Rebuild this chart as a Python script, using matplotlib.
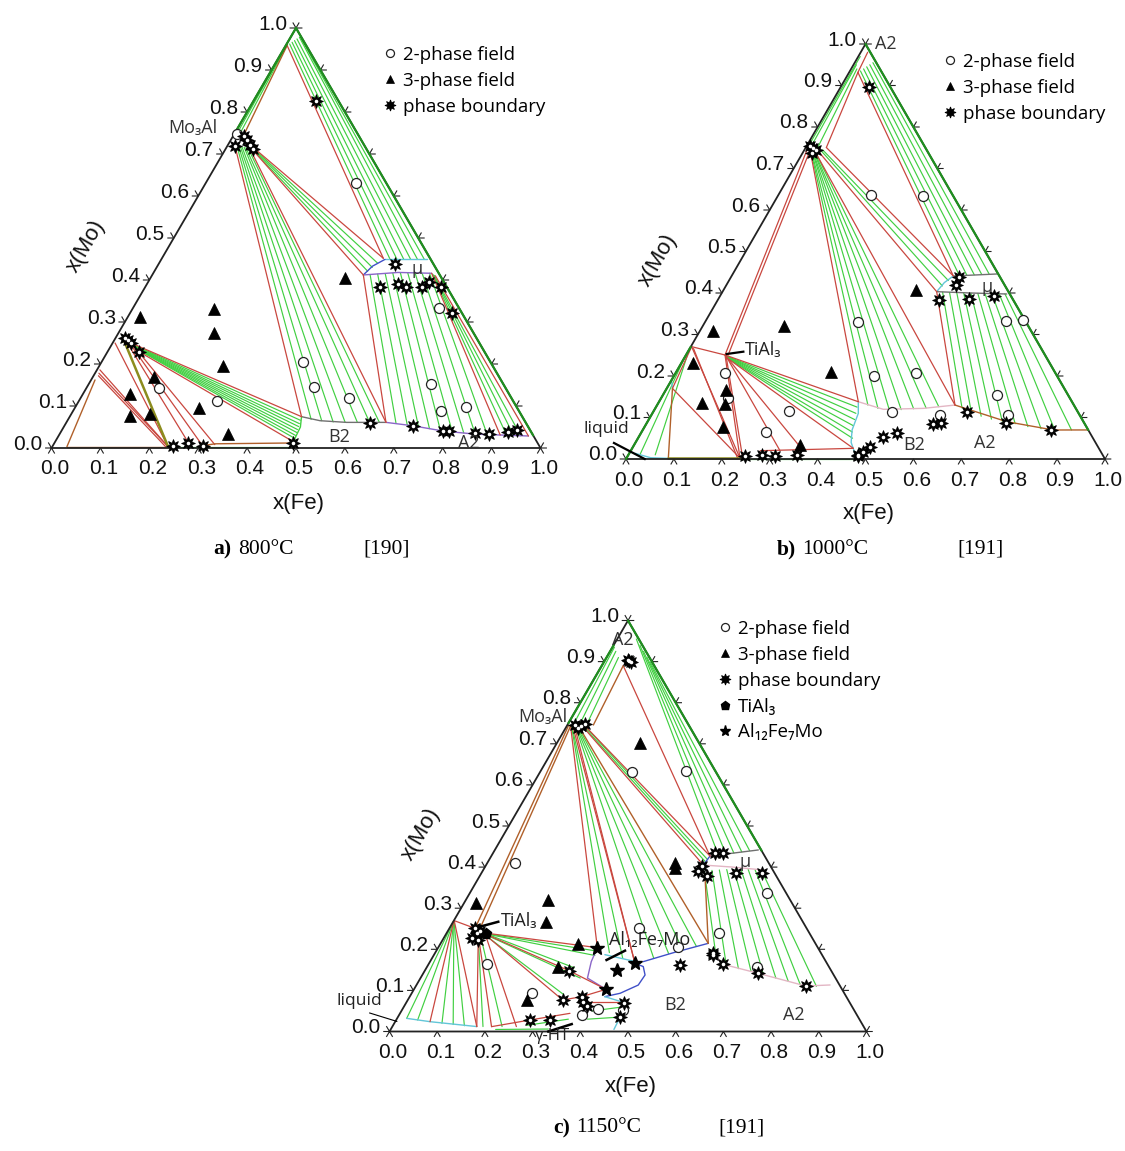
import numpy as np
import matplotlib
matplotlib.use("Agg")
import matplotlib.pyplot as plt

W_PX, H_PX = 1125, 1151
SANS = ["Open Sans", "DejaVu Sans"]
ARIAL = ["Liberation Sans", "DejaVu Sans"]
SERIF = ["Liberation Serif", "DejaVu Serif"]

RED = "#c9473f"
BROWN = "#b0602a"
OLIVE = "#8c8c1e"
GREEN = "#41cf41"
EDGE_GREEN = "#1f8f1f"
CYAN = "#62c6d8"
BLUE = "#4050c8"
PURPLE = "#8a66c8"
PINK = "#e3b6c4"
GREY = "#707070"

TICKS = [0.0, 0.1, 0.2, 0.3, 0.4, 0.5, 0.6, 0.7, 0.8, 0.9, 1.0]
TICK_LABELS = ["0.0", "0.1", "0.2", "0.3", "0.4", "0.5", "0.6", "0.7", "0.8", "0.9", "1.0"]

# triangle boxes in pixels: left x, apex y, width, base y
BOX_A = (51.5, 28.0, 489.0, 448.0)
BOX_B = (626.0, 44.0, 479.0, 459.0)
BOX_C = (389.5, 620.5, 477.0, 1031.5)

# ---------------- panel a (800 C), points as (x(Fe), x(Mo)) ----------------
A_CIRCLES = [(0.3067, 0.632), (0.1495, 0.142), (0.2815, 0.1127), (0.412, 0.2056), (0.465, 0.1444),
             (0.550, 0.118), (0.626, 0.334), (0.700, 0.1524), (0.7514, 0.0889), (0.7993, 0.0968),
             (0.0062, 0.7476)]
A_TRIANGLES = [(0.0254, 0.311), (0.168, 0.330), (0.1965, 0.273), (0.2525, 0.195), (0.126, 0.168),
               (0.096, 0.1286), (0.2536, 0.096), (0.1224, 0.0762), (0.161, 0.080), (0.345, 0.0325),
               (0.398, 0.404)]
A_STARS = [(0.1274, 0.827), (0.0158, 0.719), (0.0229, 0.743), (0.0324, 0.7333), (0.0453, 0.7214),
           (0.0558, 0.711), (0.0197, 0.261), (0.0285, 0.257), (0.0373, 0.249), (0.0649, 0.2294),
           (0.246, 0.0056), (0.2735, 0.0127), (0.306, 0.0056), (0.4877, 0.011), (0.484, 0.437),
           (0.4805, 0.3825), (0.514, 0.3905), (0.533, 0.384), (0.566, 0.3825), (0.5747, 0.396),
           (0.6053, 0.3825), (0.659, 0.322), (0.623, 0.0587), (0.712, 0.053), (0.7797, 0.0405),
           (0.7934, 0.0405), (0.8486, 0.035), (0.879, 0.0333), (0.9134, 0.039), (0.931, 0.0429)]
A_RED = [
    [(0.003, 0.958), (0.4528, 0.4516)], [(0.045, 0.722), (0.4528, 0.4516)],
    [(0.055, 0.711), (0.4317, 0.412)], [(0.015, 0.720), (0.474, 0.0746)],
    [(0.050, 0.712), (0.6535, 0.061)], [(0.4317, 0.412), (0.6535, 0.061)],
    [(0.5694, 0.416), (0.902, 0.031)], [(0.580, 0.410), (0.961, 0.0286)],
    [(0.025, 0.255), (0.474, 0.0746)], [(0.065, 0.229), (0.487, 0.015)],
    [(0.006, 0.186), (0.237, 0.003)], [(0.008, 0.178), (0.237, 0.003)],
    [(0.010, 0.172), (0.232, 0.003)], [(0.005, 0.250), (0.237, 0.003)],
    [(0.030, 0.250), (0.2735, 0.0127)], [(0.040, 0.245), (0.306, 0.0056)],
    [(0.050, 0.240), (0.330, 0.008)],
]
A_BROWN = [
    [(0.0025, 0.960), (0.020, 0.752)], [(0.030, 0.003), (0.008, 0.162)],
    [(0.030, 0.003), (0.237, 0.003)], [(0.306, 0.0056), (0.330, 0.010), (0.490, 0.012)],
]
A_OLIVE = [[(0.015, 0.262), (0.237, 0.003)]]
A_GREEN = [
    [(0.001, 0.955), (0.005, 0.752)], [(0.002, 0.957), (0.011, 0.751)],
    [(0.006, 0.962), (0.468, 0.449)], [(0.009, 0.966), (0.482, 0.449)], [(0.012, 0.970), (0.496, 0.449)],
    [(0.015, 0.974), (0.510, 0.449)], [(0.018, 0.978), (0.524, 0.449)], [(0.020, 0.978), (0.538, 0.449)],
    [(0.048, 0.719), (0.447, 0.440)], [(0.051, 0.716), (0.441, 0.430)], [(0.053, 0.713), (0.436, 0.421)],
    [(0.019, 0.720), (0.497, 0.068)], [(0.023, 0.719), (0.520, 0.065)], [(0.027, 0.718), (0.545, 0.062)],
    [(0.031, 0.717), (0.570, 0.061)], [(0.036, 0.716), (0.595, 0.061)], [(0.040, 0.715), (0.620, 0.061)],
    [(0.045, 0.714), (0.640, 0.061)],
    [(0.445, 0.413), (0.675, 0.059)], [(0.460, 0.414), (0.700, 0.055)], [(0.475, 0.415), (0.725, 0.051)],
    [(0.490, 0.416), (0.750, 0.046)], [(0.505, 0.417), (0.775, 0.041)], [(0.520, 0.417), (0.800, 0.039)],
    [(0.535, 0.417), (0.825, 0.036)], [(0.550, 0.416), (0.850, 0.033)], [(0.565, 0.416), (0.875, 0.032)],
    [(0.572, 0.414), (0.915, 0.031)], [(0.575, 0.412), (0.930, 0.030)], [(0.577, 0.411), (0.945, 0.029)],
    [(0.030, 0.252), (0.476, 0.066)], [(0.035, 0.249), (0.478, 0.058)], [(0.040, 0.246), (0.480, 0.051)],
    [(0.045, 0.243), (0.481, 0.044)], [(0.050, 0.240), (0.483, 0.037)], [(0.055, 0.237), (0.484, 0.030)],
    [(0.060, 0.234), (0.486, 0.023)],
    [(0.237, 0.002), (0.487, 0.002)],
]
A_EDGE_GREEN = [[(0.0, 0.75), (0.0, 1.0)], [(0.0, 1.0), (0.97, 0.03)]]
A_CURVES = [
    (GREY, [(0.474, 0.0746), (0.5166, 0.065), (0.573, 0.061), (0.6535, 0.061)]),
    (PURPLE, [(0.6535, 0.061), (0.712, 0.053), (0.78, 0.0405), (0.85, 0.033), (0.961, 0.0286)]),
    (GREEN, [(0.474, 0.0746), (0.484, 0.05), (0.487, 0.015)]),
    (CYAN, [(0.4574, 0.449), (0.5426, 0.449)]),
    (BLUE, [(0.4317, 0.412), (0.44, 0.433), (0.4574, 0.449)]),
    (PURPLE, [(0.4317, 0.412), (0.50, 0.418), (0.5694, 0.416)]),
]
A_LABELS = [("Mo\u2083Al", (-0.0906, 0.761)), ("\u03bc", (0.534, 0.4254)),
            ("B2", (0.576, 0.0254)), ("A2", (0.847, 0.011))]

# ---------------- panel b (1000 C) ----------------
B_CIRCLES = [(0.194, 0.6356), (0.3024, 0.634), (0.3195, 0.331), (0.418, 0.200), (0.5014, 0.208),
             (0.6267, 0.3333), (0.661, 0.335), (0.698, 0.1542), (0.745, 0.106), (0.4998, 0.1124),
             (0.6025, 0.106), (0.281, 0.1165), (0.2596, 0.064), (0.1027, 0.208), (0.1406, 0.146)]
B_TRIANGLES = [(0.0264, 0.309), (0.1703, 0.3205), (0.023, 0.232), (0.322, 0.2104), (0.1257, 0.166),
               (0.091, 0.134), (0.1404, 0.1325), (0.1642, 0.078), (0.3464, 0.0337), (0.4018, 0.4072)]
B_STARS = [(0.0606, 0.8954), (0.0071, 0.7546), (0.0247, 0.745), (0.015, 0.750), (0.020, 0.738),
           (0.477, 0.4378), (0.4793, 0.4193), (0.4618, 0.383), (0.5244, 0.3847), (0.572, 0.3928),
           (0.6556, 0.114), (0.7488, 0.0876), (0.8523, 0.0699), (0.4815, 0.0072), (0.480, 0.0096),
           (0.4867, 0.0177), (0.4945, 0.0297), (0.5097, 0.0522), (0.5356, 0.0618), (0.5994, 0.0843),
           (0.613, 0.0876), (0.245, 0.0072), (0.280, 0.0096), (0.3075, 0.0072), (0.3515, 0.0096)]
B_RED = [
    [(0.0145, 0.980), (0.0184, 0.9316)], [(0.0184, 0.9316), (0.043, 0.7506)],
    [(0.0184, 0.9316), (0.4629, 0.441)], [(0.005, 0.748), (0.0814, 0.2506)],
    [(0.012, 0.746), (0.088, 0.250)], [(0.015, 0.740), (0.416, 0.138)],
    [(0.030, 0.735), (0.6218, 0.130)], [(0.043, 0.7506), (0.4629, 0.441)],
    [(0.035, 0.738), (0.447, 0.4032)], [(0.447, 0.4032), (0.6218, 0.130)],
    [(0.0017, 0.2707), (0.0814, 0.2506)], [(0.0017, 0.2707), (0.237, 0.002)],
    [(0.008, 0.266), (0.232, 0.002)], [(0.012, 0.170), (0.237, 0.002)],
    [(0.0017, 0.2707), (0.012, 0.170)],
    [(0.0814, 0.2506), (0.237, 0.002)], [(0.085, 0.248), (0.242, 0.003)],
    [(0.085, 0.248), (0.3115, 0.020)], [(0.088, 0.245), (0.360, 0.020)],
    [(0.0814, 0.2506), (0.416, 0.138)], [(0.090, 0.243), (0.4617, 0.0257)],
    [(0.270, 0.020), (0.4617, 0.0257)],
]
B_BROWN = [[(0.0876, 0.0016), (0.012, 0.170)]]
B_OLIVE = [[(0.0876, 0.002), (0.237, 0.002)]]
B_GREEN = [
    [(0.004, 0.970), (0.004, 0.753)], [(0.006, 0.950), (0.010, 0.752)], [(0.012, 0.940), (0.025, 0.750)],
    [(0.022, 0.935), (0.475, 0.442)], [(0.026, 0.940), (0.490, 0.443)], [(0.030, 0.945), (0.505, 0.444)],
    [(0.034, 0.950), (0.520, 0.445)], [(0.038, 0.955), (0.535, 0.446)],
    [(0.038, 0.745), (0.458, 0.430)], [(0.037, 0.742), (0.452, 0.417)],
    [(0.017, 0.739), (0.440, 0.130)], [(0.019, 0.738), (0.465, 0.122)], [(0.021, 0.738), (0.490, 0.119)],
    [(0.023, 0.737), (0.515, 0.119)], [(0.025, 0.737), (0.540, 0.121)], [(0.027, 0.736), (0.565, 0.123)],
    [(0.029, 0.736), (0.590, 0.126)],
    [(0.460, 0.402), (0.640, 0.123)], [(0.475, 0.401), (0.665, 0.112)], [(0.490, 0.401), (0.690, 0.103)],
    [(0.505, 0.400), (0.715, 0.096)], [(0.520, 0.400), (0.740, 0.091)], [(0.535, 0.399), (0.770, 0.085)],
    [(0.550, 0.399), (0.800, 0.078)], [(0.565, 0.398), (0.830, 0.073)], [(0.580, 0.398), (0.860, 0.070)],
    [(0.592, 0.398), (0.895, 0.070)],
    [(0.083, 0.249), (0.420, 0.125)], [(0.084, 0.248), (0.425, 0.110)], [(0.086, 0.247), (0.430, 0.095)],
    [(0.087, 0.246), (0.435, 0.080)], [(0.088, 0.245), (0.440, 0.065)], [(0.089, 0.244), (0.448, 0.050)],
    [(0.024, 0.010), (0.000, 0.245)], [(0.056, 0.010), (0.003, 0.250)],
    [(0.237, 0.001), (0.480, 0.001)],
]
B_EDGE_GREEN = [[(0.0, 0.0), (0.0, 0.27)], [(0.0, 1.0), (0.93, 0.07)]]
B_CURVES = [
    (CYAN, [(0.012, 0.0137), (0.05, 0.003), (0.0876, 0.0016)]),
    (CYAN, [(0.0, 0.19), (0.012, 0.17)]),
    (CYAN, [(0.416, 0.138), (0.43, 0.11), (0.437, 0.07), (0.45, 0.04), (0.47, 0.015), (0.48, 0.007)]),
    (PINK, [(0.416, 0.138), (0.4774, 0.1197), (0.5597, 0.122), (0.6218, 0.130)]),
    (BROWN, [(0.6218, 0.130), (0.7497, 0.090), (0.857, 0.0699), (0.930, 0.070)]),
    (GREY, [(0.4629, 0.441), (0.551, 0.4458)]),
    (CYAN, [(0.447, 0.4032), (0.452, 0.425), (0.4629, 0.441)]),
    (GREY, [(0.447, 0.4032), (0.52, 0.400), (0.596, 0.3976)]),
]
B_LABELS = [("A2", (0.043, 1.0)), ("\u03bc", (0.546, 0.4137)), ("B2", (0.584, 0.0337)),
            ("A2", (0.7306, 0.0378))]

# ---------------- panel c (1150 C) ----------------
C_CIRCLES = [(0.1917, 0.632), (0.3047, 0.6338), (0.0585, 0.4092), (0.1216, 0.1642), (0.2516, 0.0929),
             (0.4108, 0.054), (0.3828, 0.0402), (0.4626, 0.0523), (0.398, 0.251), (0.5023, 0.2064),
             (0.572, 0.239), (0.6232, 0.3378), (0.693, 0.156)]
C_TRIANGLES = [(0.1746, 0.7012), (0.0239, 0.3135), (0.1716, 0.320), (0.1938, 0.2672), (0.2895, 0.2129),
               (0.275, 0.1578), (0.2493, 0.0766), (0.394, 0.409), (0.400, 0.397)]
C_STARS = [(0.048, 0.905), (0.052, 0.902), (0.057, 0.900), (0.016, 0.7457), (0.027, 0.7377),
           (0.0362, 0.7474), (0.030, 0.744), (0.0537, 0.251), (0.0633, 0.2389), (0.0749, 0.2226),
           (0.060, 0.228), (0.068, 0.245), (0.4656, 0.4335), (0.4831, 0.4335), (0.4535, 0.4019),
           (0.4526, 0.3897), (0.4761, 0.3775), (0.5332, 0.3865), (0.587, 0.3865), (0.5825, 0.190),
           (0.586, 0.186), (0.618, 0.1634), (0.7025, 0.1415), (0.8172, 0.1107), (0.528, 0.1618),
           (0.4563, 0.0705), (0.466, 0.0345), (0.3023, 0.148), (0.3247, 0.0766), (0.3605, 0.0848),
           (0.3687, 0.0726), (0.3823, 0.062), (0.2806, 0.028), (0.3225, 0.028)]
C_PENTAGONS = [(0.0837, 0.2372)]
C_AL12 = [(0.3337, 0.204), (0.4028, 0.1496), (0.4317, 0.1659), (0.4026, 0.1026)]
C_RED = [
    [(0.045, 0.890), (0.4584, 0.427)], [(0.036, 0.745), (0.4584, 0.427)],
    [(0.034, 0.742), (0.4555, 0.405)], [(0.010, 0.740), (0.3337, 0.204)],
    [(0.015, 0.740), (0.4317, 0.1659)], [(0.020, 0.738), (0.4317, 0.1659)],
    [(0.0, 0.270), (0.0537, 0.251)], [(0.0, 0.270), (0.073, 0.0239)],
    [(0.002, 0.268), (0.177, 0.012)], [(0.075, 0.222), (0.177, 0.012)],
    [(0.078, 0.220), (0.208, 0.0118)], [(0.086, 0.232), (0.260, 0.012)],
    [(0.092, 0.238), (0.3337, 0.204)], [(0.090, 0.234), (0.3023, 0.148)],
    [(0.088, 0.232), (0.3247, 0.0766)], [(0.3023, 0.148), (0.4026, 0.1026)],
    [(0.3247, 0.0766), (0.3605, 0.0848), (0.4026, 0.1026)],
    [(0.208, 0.0118), (0.2806, 0.028), (0.3563, 0.0442)],
    [(0.3687, 0.0726), (0.4553, 0.0726)],
]
C_BROWN = [
    [(0.045, 0.890), (0.0545, 0.7457)], [(0.003, 0.745), (0.054, 0.250)], [(0.008, 0.743), (0.065, 0.245)],
    [(0.030, 0.738), (0.561, 0.2145)], [(0.473, 0.377), (0.561, 0.2145)],
]
C_GREEN = [
    [(0.004, 0.935), (0.012, 0.750)], [(0.012, 0.925), (0.025, 0.748)], [(0.025, 0.910), (0.040, 0.747)],
    [(0.040, 0.955), (0.475, 0.429)], [(0.055, 0.940), (0.490, 0.431)], [(0.070, 0.925), (0.505, 0.434)],
    [(0.085, 0.910), (0.520, 0.437)], [(0.098, 0.898), (0.535, 0.440)],
    [(0.037, 0.744), (0.458, 0.418)], [(0.036, 0.742), (0.457, 0.412)],
    [(0.022, 0.738), (0.465, 0.178)], [(0.024, 0.738), (0.490, 0.190)], [(0.026, 0.738), (0.515, 0.199)],
    [(0.028, 0.738), (0.540, 0.207)],
    [(0.012, 0.740), (0.365, 0.192)], [(0.013, 0.740), (0.400, 0.178)],
    [(0.092, 0.237), (0.335, 0.196)], [(0.091, 0.236), (0.338, 0.185)], [(0.091, 0.235), (0.310, 0.155)],
    [(0.090, 0.233), (0.335, 0.130)], [(0.089, 0.231), (0.320, 0.090)],
    [(0.0, 0.270), (0.020, 0.032)], [(0.0, 0.270), (0.045, 0.028)], [(0.0, 0.270), (0.100, 0.020)],
    [(0.0, 0.270), (0.125, 0.017)], [(0.0, 0.270), (0.150, 0.014)],
    [(0.076, 0.221), (0.190, 0.012)], [(0.080, 0.225), (0.230, 0.012)],
    [(0.465, 0.390), (0.595, 0.180)], [(0.480, 0.392), (0.625, 0.162)], [(0.495, 0.393), (0.655, 0.153)],
    [(0.510, 0.394), (0.685, 0.146)], [(0.525, 0.394), (0.715, 0.138)], [(0.540, 0.394), (0.745, 0.130)],
    [(0.555, 0.394), (0.775, 0.122)], [(0.570, 0.393), (0.805, 0.113)], [(0.583, 0.393), (0.840, 0.110)],
    [(0.280, 0.015), (0.360, 0.030)], [(0.220, 0.005), (0.330, 0.006)], [(0.400, 0.050), (0.460, 0.060)],
    [(0.400, 0.030), (0.465, 0.035)],
]
C_EDGE_GREEN = [[(0.0, 0.75), (0.0, 0.94)], [(0.0, 1.0), (0.56, 0.44)]]
C_CURVES = [
    (CYAN, [(0.02, 0.032), (0.073, 0.0239), (0.177, 0.012)]),
    (BLUE, [(0.447, 0.170), (0.50, 0.192), (0.561, 0.2145)]),
    (CYAN, [(0.358, 0.187), (0.431, 0.170)]),
    (PURPLE, [(0.3337, 0.204), (0.338, 0.17), (0.35, 0.13), (0.4026, 0.1026)]),
    (BLUE, [(0.4317, 0.1659), (0.453, 0.158), (0.467, 0.1375), (0.465, 0.113), (0.437, 0.093), (0.409, 0.0848)]),
    (CYAN, [(0.409, 0.0848), (0.4563, 0.0705), (0.466, 0.0345), (0.468, 0.005)]),
    (GREY, [(0.4584, 0.427), (0.5524, 0.4417)]),
    (BLUE, [(0.4555, 0.405), (0.4584, 0.427)]),
    (PINK, [(0.4555, 0.405), (0.52, 0.400), (0.587, 0.393)]),
    (PINK, [(0.5825, 0.190), (0.618, 0.1634), (0.7025, 0.1415), (0.8172, 0.1107), (0.867, 0.1132)]),
]
C_LABELS = [("A2", (0.0125, 0.9526)), ("Mo\u2083Al", (-0.061, 0.766)), ("\u03bc", (0.5387, 0.4132)),
            ("B2", (0.5666, 0.0635)), ("A2", (0.829, 0.039))]

CAPTIONS = [("a)", "800\u00b0C", "[190]", 213, 238, 363, 549),
            ("b)", "1000\u00b0C", "[191]", 777, 802, 957, 549),
            ("c)", "1150\u00b0C", "[191]", 553, 576, 718, 1128)]

# ---------------------------------------------------------------------------
fig = plt.figure(figsize=(W_PX / 100, H_PX / 100), dpi=100)
fig.patch.set_facecolor("white")


def tx(pts):
    a = np.asarray(pts, float)
    return a[:, 0] + a[:, 1] / 2.0, a[:, 1]


def make_ax(box):
    l, top, w, base = box
    ax = fig.add_axes([l / W_PX, 1 - base / H_PX, w / W_PX, (base - top) / H_PX])
    ax.set_xlim(0, 1)
    ax.set_ylim(0, 1)
    ax.axis("off")
    return ax


def draw_lines(ax, lines, color, lw, z=2):
    for ln in lines:
        x, y = tx(ln)
        ax.plot(x, y, color=color, lw=lw, zorder=z, clip_on=False, solid_capstyle="round")


def draw_frame(ax, edge_green):
    x, y = tx([(0, 0), (1, 0), (0, 1), (0, 0)])
    ax.plot(x, y, color="#222222", lw=1.3, zorder=3, clip_on=False)
    draw_lines(ax, edge_green, EDGE_GREEN, 1.6, z=3.5)
    t = 0.012
    for v, lab in zip(TICKS, TICK_LABELS):
        ax.plot([v - 0.5 * t, v, v + 0.5 * t], [-t, 0, -t], color="#222222", lw=0.8, clip_on=False)
        ax.annotate(lab, (v, 0), xytext=(3, -21), textcoords="offset pixels", ha="center",
                    va="center", fontsize=15, family=ARIAL, color="#111111")
        lx, ly = tx([(0.0, v)])
        ax.plot([lx[0] - t, lx[0], lx[0] - 0.5 * t], [ly[0], ly[0], ly[0] + t], color="#222222",
                lw=0.8, clip_on=False)
        ax.annotate(lab, (lx[0], ly[0]), xytext=(-9, 4), textcoords="offset pixels", ha="right",
                    va="center", fontsize=15, family=ARIAL, color="#111111")
        rx, ry = tx([(1.0 - v, v)])
        ax.plot([rx[0] + t, rx[0], rx[0] + 0.5 * t], [ry[0], ry[0], ry[0] + t], color="#222222",
                lw=0.8, clip_on=False)
    ax.annotate("x(Fe)", (0.5, 0), xytext=(3, -55), textcoords="offset pixels", ha="center",
                va="center", fontsize=16, family=ARIAL, color="#111111")
    mx, my = tx([(0.0, 0.48)])
    ax.annotate("x(Mo)", (mx[0], my[0]), xytext=(-83, 0), textcoords="offset pixels", ha="center",
                va="center", fontsize=16, family=ARIAL, rotation=60, color="#111111")


def draw_markers(ax, circles, triangles, stars):
    x, y = tx(circles)
    h1, = ax.plot(x, y, ls="none", marker="o", ms=7.2, mfc="white", mec="#222222", mew=0.9,
                  zorder=6, clip_on=False, label="2-phase field")
    x, y = tx(triangles)
    h2, = ax.plot(x, y, ls="none", marker="^", ms=8, mfc="black", mec="black", mew=0.5,
                  zorder=6, clip_on=False, label="3-phase field")
    x, y = tx(stars)
    h3, = ax.plot(x, y, ls="none", marker=(8, 1, 0), ms=10, mfc="black", mec="black", mew=0.6,
                  zorder=7, clip_on=False, label="phase boundary")
    ax.plot(x, y, ls="none", marker="o", ms=2.6, mfc="white", mec="white", mew=0,
            zorder=7.5, clip_on=False)
    return [h1, h2, h3]


def draw_labels(ax, labels, size=13):
    for s, p in labels:
        x, y = tx([p])
        ax.text(x[0], y[0], s, ha="center", va="center", fontsize=size, family=SANS,
                color="#333333", zorder=8)


def place_legend(ax, handles, x_px, top_px):
    ax.legend(handles=handles, loc="upper left", bbox_to_anchor=(x_px / W_PX, 1 - top_px / H_PX),
              bbox_transform=fig.transFigure, frameon=False, borderpad=0, borderaxespad=0,
              handlelength=0.9, handletextpad=0.2, labelspacing=0.42, markerscale=0.8,
              prop={"family": SANS, "size": 13.5})


def panel(box, red, brown, olive, green, edge_green, curves, circles, triangles, stars):
    ax = make_ax(box)
    draw_lines(ax, green, GREEN, 0.85, z=2)
    for col, pts in curves:
        draw_lines(ax, [pts], col, 1.0, z=2.5)
    draw_lines(ax, red, RED, 0.9, z=2.6)
    draw_lines(ax, brown, BROWN, 1.0, z=2.6)
    draw_lines(ax, olive, OLIVE, 1.8, z=2.6)
    draw_frame(ax, edge_green)
    handles = draw_markers(ax, circles, triangles, stars)
    return ax, handles


# panel a
axa, ha = panel(BOX_A, A_RED, A_BROWN, A_OLIVE, A_GREEN, A_EDGE_GREEN, A_CURVES,
                A_CIRCLES, A_TRIANGLES, A_STARS)
draw_labels(axa, A_LABELS)
place_legend(axa, ha, 382, 46)

# panel b
axb, hb = panel(BOX_B, B_RED, B_BROWN, B_OLIVE, B_GREEN, B_EDGE_GREEN, B_CURVES,
                B_CIRCLES, B_TRIANGLES, B_STARS)
draw_labels(axb, B_LABELS)
p0, p1 = tx([(0.0837, 0.253), (0.1157, 0.2586)])
axb.plot(p0, p1, color="black", lw=1.6, zorder=8)
tl = tx([(0.118, 0.262)])
axb.text(tl[0][0], tl[1][0], "TiAl\u2083", ha="left", va="center", fontsize=13, family=SANS,
         color="#222222", zorder=8)
lq = tx([(-0.0444, 0.0386), (0.039, 0.0)])
axb.plot(lq[0], lq[1], color="black", lw=1.6, zorder=8, clip_on=False)
lt = tx([(-0.0775, 0.0724)])
axb.text(lt[0][0], lt[1][0], "liquid", ha="center", va="center", fontsize=12.5, family=SANS,
         color="#222222")
place_legend(axb, hb, 942, 53)

# panel c
axc, hc = panel(BOX_C, C_RED, C_BROWN, [], C_GREEN, C_EDGE_GREEN, C_CURVES,
                C_CIRCLES, C_TRIANGLES, C_STARS)
draw_labels(axc, C_LABELS)
x, y = tx(C_PENTAGONS)
hp, = axc.plot(x, y, ls="none", marker="p", ms=8, color="black", zorder=7, label="TiAl\u2083")
x, y = tx(C_AL12)
hs, = axc.plot(x, y, ls="none", marker="*", ms=10, color="black", zorder=7, label="Al\u2081\u2082Fe\u2087Mo")
q = tx([(0.062, 0.255), (0.0945, 0.267)])
axc.plot(q[0], q[1], color="black", lw=1.8, zorder=8)
tl = tx([(0.099, 0.269)])
axc.text(tl[0][0], tl[1][0], "TiAl\u2083", ha="left", va="center", fontsize=13, family=SANS,
         color="#222222", zorder=8)
q = tx([(0.368, 0.174), (0.3954, 0.1966)])
axc.plot(q[0], q[1], color="black", lw=1.8, zorder=8)
tl = tx([(0.4348, 0.2226)])
axc.text(tl[0][0], tl[1][0], "Al\u2081\u2082Fe\u2087Mo", ha="center", va="center", fontsize=13,
         family=SANS, color="#222222", zorder=8)
q = tx([(-0.064, 0.045), (0.003, 0.0246)])
axc.plot(q[0], q[1], color="black", lw=0.8, zorder=8, clip_on=False)
tl = tx([(-0.10, 0.075)])
axc.text(tl[0][0], tl[1][0], "liquid", ha="center", va="center", fontsize=12.5, family=SANS,
         color="#222222")
q = tx([(0.333, 0.0), (0.373, 0.018)])
axc.plot(q[0], q[1], color="black", lw=1.8, zorder=8, clip_on=False)
tl = tx([(0.348, -0.012)])
axc.text(tl[0][0], tl[1][0], "\u03b3-HT", ha="center", va="center", fontsize=12, family=SANS,
         color="#222222", zorder=8)
place_legend(axc, hc + [hp, hs], 717, 620)

# captions
for lab, temp, ref, x1, x2, x3, yy in CAPTIONS:
    fig.text(x1 / W_PX, 1 - yy / H_PX, lab, ha="left", va="center", fontsize=15.5,
             family=SERIF, fontweight="bold")
    fig.text(x2 / W_PX, 1 - yy / H_PX, temp, ha="left", va="center", fontsize=15.5, family=SERIF)
    fig.text(x3 / W_PX, 1 - yy / H_PX, ref, ha="left", va="center", fontsize=15.5, family=SERIF)

fig.savefig("out.png", dpi=100, facecolor="white")
